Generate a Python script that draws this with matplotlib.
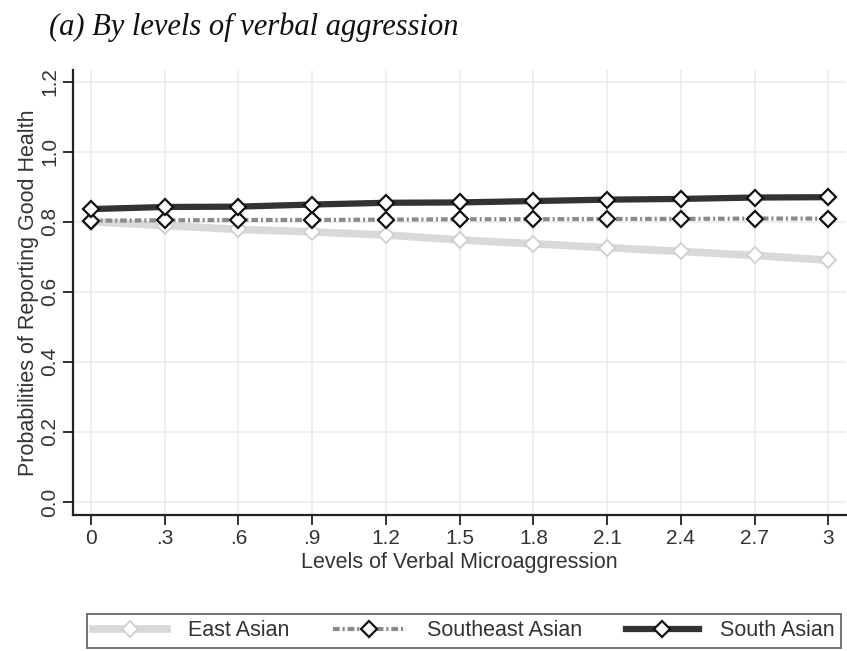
import matplotlib.pyplot as plt

# values
levels = [0, 0.3, 0.6, 0.9, 1.2, 1.5, 1.8, 2.1, 2.4, 2.7, 3.0]
tick_labels = ["0", ".3", ".6", ".9", "1.2", "1.5", "1.8", "2.1", "2.4", "2.7", "3"]
east_asian = [0.800, 0.789, 0.778, 0.771, 0.762, 0.748, 0.737, 0.726, 0.715, 0.704, 0.690]
southeast_asian = [0.803, 0.804, 0.805, 0.805, 0.806, 0.807, 0.807, 0.808, 0.808, 0.809, 0.809]
south_asian = [0.836, 0.842, 0.843, 0.849, 0.854, 0.855, 0.859, 0.863, 0.865, 0.869, 0.870]

plt.rcParams["font.family"] = ["Liberation Sans", "DejaVu Sans"]

fig = plt.figure(figsize=(8.47, 6.51), dpi=100)
ax = fig.add_axes([0.0862, 0.209, 0.913, 0.684])

ax.plot(levels, east_asian, color="#d9d9d9", lw=5.5, marker="D", ms=8,
        mfc="white", mec="#cfcfcf", mew=1.3, label="East Asian", zorder=3)
ax.plot(levels, southeast_asian, color="#8a8a8a", lw=3, ls=(0, (1.6, 0.7, 0.5, 0.7)),
        marker="D", ms=8, mfc="white", mec="#111111", mew=1.6,
        label="Southeast Asian", zorder=4)
ax.plot(levels, south_asian, color="#333333", lw=4.5, marker="D", ms=8,
        mfc="white", mec="#111111", mew=1.6, label="South Asian", zorder=5)

ax.set_xlim(-0.073, 3.073)
ax.set_ylim(-0.037, 1.234)
ax.set_xticks(levels)
ax.set_xticklabels(tick_labels)
ax.set_yticks([0, 0.2, 0.4, 0.6, 0.8, 1.0, 1.2])
ax.set_yticklabels(["0.0", "0.2", "0.4", "0.6", "0.8", "1.0", "1.2"],
                   rotation=90, va="center")
ax.tick_params(axis="both", direction="out", length=7, width=1.3,
               color="#222222", labelsize=15, labelcolor="#333333", pad=3)
ax.grid(True, color="#ececec", lw=1.2, zorder=0)
ax.set_axisbelow(True)
for side in ["top", "right"]:
    ax.spines[side].set_visible(False)
for side in ["left", "bottom"]:
    ax.spines[side].set_linewidth(1.6)
    ax.spines[side].set_color("#222222")

ax.set_xlabel("Levels of Verbal Microaggression", fontsize=15.5, color="#333333", labelpad=3)
ax.set_ylabel("Probabilities of Reporting Good Health", fontsize=15.5, color="#333333", labelpad=1)

fig.text(0.058, 0.9585, "(a) By levels of verbal aggression", fontsize=22,
         family="Liberation Serif", style="italic", va="center", color="#111111")

leg = fig.legend(loc="center", bbox_to_anchor=(0.548, 0.031), ncol=3, frameon=True,
                 fancybox=False, edgecolor="#333333", fontsize=15.5, handlelength=3.4,
                 columnspacing=2.0, handletextpad=1.0, borderpad=0.3,
                 labelcolor="#333333")
leg.get_frame().set_linewidth(1.2)

fig.savefig("out.png", dpi=100)
